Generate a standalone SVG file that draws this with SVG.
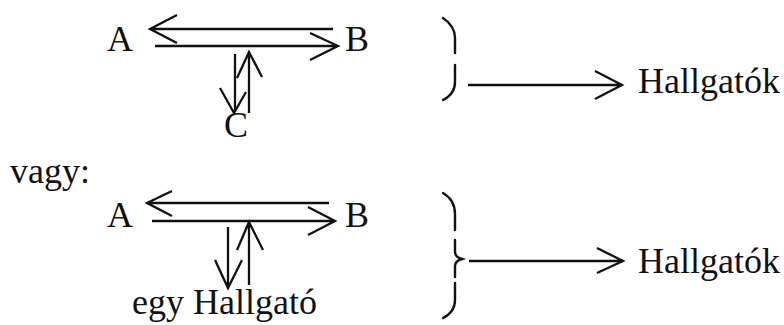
<svg xmlns="http://www.w3.org/2000/svg" width="784" height="325" viewBox="0 0 784 325">
  <rect width="784" height="325" fill="#fff"/>

  <!-- labels: shared serif face at 36px -->
  <g id="labels" fill="#111" font-size="36" font-family="'Liberation Serif', 'Times New Roman', serif">
    <!-- upper scheme -->
    <g id="node-A1"><text x="107" y="51">A</text></g>
    <g id="node-B1"><text x="345" y="51">B</text></g>
    <g id="node-C"><text x="236" y="137" text-anchor="middle">C</text></g>

    <!-- "or" label -->
    <g id="label-vagy"><text x="10" y="183">vagy:</text></g>

    <!-- lower scheme -->
    <g id="node-A2"><text x="107" y="227">A</text></g>
    <g id="node-B2"><text x="345" y="227">B</text></g>
    <g id="node-hallgato"><text x="132" y="314">egy Hallgató</text></g>

    <!-- results -->
    <g id="node-hallgatok1"><text x="638" y="93">Hallgatók</text></g>
    <g id="node-hallgatok2"><text x="638" y="273">Hallgatók</text></g>
  </g>

  <!-- grouping brackets -->
  <g id="brackets" stroke="#111" stroke-width="2.4" fill="none" stroke-linecap="round">
    <path d="M443,18 Q455,26 455,38 L455,53"/>
    <path d="M455,65 L455,82 Q455,94 443,100"/>
    <path d="M443,193 Q455,200 455,214 L455,230"/>
    <path d="M455,240 L455,252 Q455,257 462,259 Q455,261 455,266 L455,277"/>
    <path d="M455,283 L455,300 Q455,312 443,318"/>
  </g>

  <g id="connectors" stroke="#111" stroke-width="2.3" fill="none" stroke-linejoin="miter">
    <!-- upper: B to A -->
    <path d="M333,29 L150,29 M177,15 L150,29 L177,43"/>
    <!-- upper: A to B -->
    <path d="M155,46 L338,46 M310,33 L338,46 L310,60"/>
    <!-- upper: down to C -->
    <path d="M235,54 L235,112 M220,88 L234,113 L246,92"/>
    <!-- upper: up from C -->
    <path d="M249,113 L249,53 M237,78 L249,52 L262,77"/>

    <!-- lower: B to A -->
    <path d="M329,203 L147,203 M172,191 L147,203 L172,216"/>
    <!-- lower: A to B -->
    <path d="M152,221 L335,221 M308,207 L335,221 L308,235"/>
    <!-- lower: down to listener -->
    <path d="M228,227 L228,288 M215,260 L228,288 L242,260"/>
    <!-- lower: up from listener -->
    <path d="M249,285 L249,222 M237,250 L249,222 L263,250"/>

    <!-- result arrows -->
    <path d="M468,85 L622,85 M595,71 L622,85 L595,99"/>
    <path d="M469,261 L623,261 M597,248 L623,261 L597,273"/>
  </g>
</svg>
